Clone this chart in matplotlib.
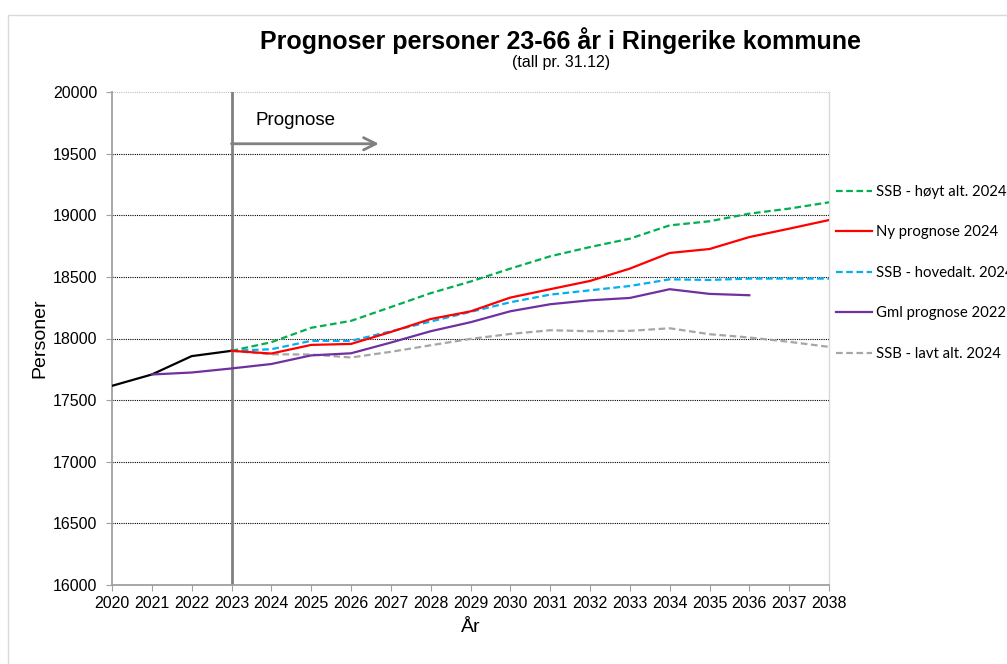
import matplotlib
matplotlib.use("Agg")
import matplotlib.pyplot as plt
from matplotlib.patches import Rectangle

plt.rcParams['font.family'] = ['Liberation Sans', 'DejaVu Sans']

years_hist = [2020, 2021, 2022, 2023]
hist = [17616, 17708, 17857, 17900]

years_prog = list(range(2023, 2039))
ssb_hoy = [17900, 17970, 18087, 18143, 18255, 18368, 18462, 18567, 18667, 18742,
           18810, 18918, 18951, 19013, 19054, 19105]
ny_prog = [17900, 17878, 17948, 17956, 18053, 18158, 18220, 18332, 18400, 18467,
           18567, 18694, 18726, 18823, 18891, 18961]
ssb_hoved = [17900, 17913, 17981, 17981, 18058, 18138, 18216, 18294, 18356, 18391,
             18426, 18480, 18475, 18486, 18486, 18486]
ssb_lavt = [17900, 17872, 17870, 17846, 17892, 17945, 17997, 18037, 18067, 18059,
            18062, 18083, 18035, 18008, 17973, 17932]

years_gml = list(range(2021, 2037))
gml_prog = [17708, 17724, 17757, 17793, 17863, 17880, 17967, 18059, 18132, 18221,
            18278, 18310, 18329, 18400, 18362, 18351]

labels = ['SSB - høyt alt. 2024', 'Ny prognose 2024', 'SSB - hovedalt. 2024',
          'Gml prognose 2022', 'SSB - lavt alt. 2024']
xticks = list(range(2020, 2039))
yticks = list(range(16000, 20001, 500))

W, H = 1007, 664
fig = plt.figure(figsize=(W / 100, H / 100), dpi=100)
fig.patches.append(Rectangle((8 / W, -0.01), 1.0, 1 - 15 / H + 0.01,
                             transform=fig.transFigure, fill=False,
                             edgecolor='#D9D9D9', lw=1.0))
ax = fig.add_axes([112 / W, 1 - 585 / H, 717 / W, 493 / H])

dash = (3, 1.6)
ax.plot(years_hist, hist, color='black', lw=1.6, zorder=3)
l1, = ax.plot(years_prog, ssb_hoy, color='#00B050', lw=1.6, dashes=dash, zorder=3)
l2, = ax.plot(years_prog, ny_prog, color='#FF0000', lw=1.6, zorder=4)
l3, = ax.plot(years_prog, ssb_hoved, color='#00B0F0', lw=1.6, dashes=dash, zorder=3)
l4, = ax.plot(years_gml, gml_prog, color='#7030A0', lw=1.6, zorder=3)
l5, = ax.plot(years_prog, ssb_lavt, color='#A6A6A6', lw=1.6, dashes=dash, zorder=2)

ax.set_xlim(2020, 2038)
ax.set_ylim(16000, 20000)
ax.set_xticks(xticks)
ax.set_yticks(yticks)
ax.tick_params(axis='both', labelsize=11.5, color='#A0A0A0', direction='out')
ax.tick_params(axis='y', length=4.5, pad=6)
ax.tick_params(axis='x', length=4, pad=4)

ax.grid(axis='y', color='black', lw=0.8, linestyle=(0, (1, 1)))
ax.set_axisbelow(True)
gls = ax.get_ygridlines()
gls[-1].set_color('#BFBFBF')
for s in ['left', 'bottom']:
    ax.spines[s].set_color('#A0A0A0')
    ax.spines[s].set_linewidth(1.3)
ax.spines['right'].set_color('#D9D9D9')
ax.spines['right'].set_linewidth(1.0)
ax.spines['top'].set_visible(False)

ax.axvline(2023, color='#808080', lw=2, zorder=2.5)
ax.annotate('', xy=(2026.7, 19580), xytext=(2023, 19580),
            arrowprops=dict(arrowstyle='->', color='#808080', lw=2,
                            mutation_scale=22, shrinkA=0, shrinkB=0))
ax.text(2023.6, 19770, 'Prognose', fontsize=13.5, ha='left', va='center')

ax.set_ylabel('Personer', fontsize=14, labelpad=3)
ax.set_xlabel('År', fontsize=14, labelpad=6)

fig.text(561 / W, 1 - 41 / H, 'Prognoser personer 23-66 år i Ringerike kommune',
         fontsize=18, fontweight='bold', ha='center', va='center')
fig.text(561 / W, 1 - 63 / H, '(tall pr. 31.12)', fontsize=11.5,
         ha='center', va='center')

leg = ax.legend([l1, l2, l3, l4, l5], labels, loc='upper left',
                bbox_to_anchor=(836 / W, 1 - 185 / H), bbox_transform=fig.transFigure,
                frameon=False, prop={'family': 'Lato', 'size': 10.7},
                handlelength=2.45, handletextpad=0.25, labelspacing=1.78,
                borderpad=0, borderaxespad=0)

fig.savefig('out.png', dpi=100)
